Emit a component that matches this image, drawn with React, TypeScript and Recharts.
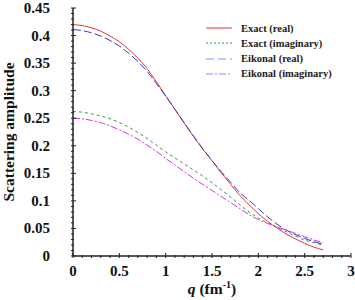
import { LineChart, Line, XAxis, YAxis, Legend } from 'recharts';

const qValues = [0, 0.1, 0.2, 0.3, 0.4, 0.5, 0.6, 0.7, 0.8, 0.9, 1.0, 1.1, 1.2, 1.3, 1.4, 1.5, 1.6, 1.7, 1.8, 1.9, 2.0, 2.1, 2.2, 2.3, 2.4, 2.5, 2.6, 2.7];

const exactReal = [0.420, 0.418, 0.414, 0.408, 0.399, 0.389, 0.375, 0.359, 0.340, 0.316, 0.291, 0.266, 0.241, 0.217, 0.194, 0.173, 0.151, 0.130, 0.110, 0.093, 0.077, 0.063, 0.051, 0.040, 0.031, 0.023, 0.016, 0.011];
const exactImag = [0.262, 0.261, 0.258, 0.254, 0.249, 0.242, 0.234, 0.224, 0.213, 0.201, 0.189, 0.178, 0.167, 0.156, 0.145, 0.133, 0.120, 0.107, 0.093, 0.080, 0.069, 0.060, 0.052, 0.044, 0.036, 0.029, 0.024, 0.020];
const eikonalReal = [0.411, 0.409, 0.405, 0.399, 0.391, 0.381, 0.368, 0.353, 0.335, 0.313, 0.290, 0.266, 0.242, 0.218, 0.195, 0.173, 0.153, 0.134, 0.115, 0.101, 0.086, 0.071, 0.058, 0.047, 0.039, 0.032, 0.026, 0.021];
const eikonalImag = [0.250, 0.249, 0.246, 0.242, 0.236, 0.229, 0.221, 0.212, 0.201, 0.190, 0.177, 0.165, 0.153, 0.141, 0.130, 0.119, 0.108, 0.097, 0.086, 0.075, 0.066, 0.059, 0.053, 0.047, 0.041, 0.035, 0.029, 0.024];

const xTickLabels = ['0', '0.5', '1', '1.5', '2', '2.5', '3'];
const yTickLabels = ['0', '0.05', '0.1', '0.15', '0.2', '0.25', '0.3', '0.35', '0.4', '0.45'];

const data = qValues.map((q, i) => ({
  q,
  er: exactReal[i],
  ei: exactImag[i],
  kr: eikonalReal[i],
  ki: eikonalImag[i],
}));

// minor ticks: every 0.1 on x, every 0.01 on y
const xTicks: number[] = [];
for (let i = 0; i <= 30; i++) xTicks.push(i / 10);
const yTicks: number[] = [];
for (let i = 0; i <= 45; i++) yTicks.push(i / 100);

const legendItems = [
  { name: 'Exact (real)', color: '#ee3333', dash: '' },
  { name: 'Exact (imaginary)', color: '#22aa22', dash: '2 2' },
  { name: 'Eikonal (real)', color: '#7799ff', dash: '8 4' },
  { name: 'Eikonal (imaginary)', color: '#aa77ee', dash: '7 2 2 2' },
];

const FONT = 'Liberation Serif';

const textStyle = { fontFamily: FONT, fontWeight: 700 };

function XTick(props: any) {
  const { x, y, payload } = props;
  const idx = Math.round(payload.value * 10);
  const major = idx % 5 === 0;
  return (
    <g>
      <line x1={x} x2={x} y1={y} y2={y - (major ? 5 : 3)} stroke="#222" strokeWidth={1} />
      {major && (
        <text x={x} y={y + 18} textAnchor="middle" style={{ ...textStyle, fontSize: 15 }} fill="#111">
          {xTickLabels[idx / 5]}
        </text>
      )}
    </g>
  );
}

function YTick(props: any) {
  const { x, y, payload } = props;
  const idx = Math.round(payload.value * 100);
  const major = idx % 5 === 0;
  return (
    <g>
      <line x1={x} x2={x + (major ? 5 : 3)} y1={y} y2={y} stroke="#222" strokeWidth={1} />
      {major && (
        <text x={x - 21} y={y + 5} textAnchor="end" style={{ ...textStyle, fontSize: 15 }} fill="#111">
          {yTickLabels[idx / 5]}
        </text>
      )}
    </g>
  );
}

function XLabel(props: any) {
  const { viewBox } = props;
  const cx = viewBox.x + viewBox.width / 2;
  return (
    <text x={cx} y={viewBox.y + 38} textAnchor="middle" style={{ ...textStyle, fontSize: 15.5 }} fill="#111">
      <tspan fontStyle="italic">q</tspan>
      <tspan> (fm</tspan>
      <tspan dy={-6} style={{ fontSize: 10 }}>-1</tspan>
      <tspan dy={6}>)</tspan>
    </text>
  );
}

function YLabel(props: any) {
  const { viewBox } = props;
  const cy = viewBox.y + viewBox.height / 2;
  return (
    <text x={13.5} y={cy} transform={`rotate(-90 13.5 ${cy})`} textAnchor="middle" style={{ ...textStyle, fontSize: 15.5 }} fill="#111">
      Scattering amplitude
    </text>
  );
}

function LegendBox() {
  return (
    <div style={{ ...textStyle, fontSize: 10.5, color: '#222' }}>
      {legendItems.map((item) => (
        <div key={item.name} style={{ display: 'flex', alignItems: 'center', height: 15.2 }}>
          <svg width={26} height={4} style={{ marginRight: 9 }}>
            <line x1={0} x2={26} y1={2} y2={2} stroke={item.color} strokeWidth={1} strokeDasharray={item.dash} />
          </svg>
          <span>{item.name}</span>
        </div>
      ))}
    </div>
  );
}

export default function App() {
  return (
    <div style={{ position: 'absolute', left: 0, top: 0, width: 355, height: 300, background: '#fff' }}>
      <LineChart width={355} height={300} data={data} margin={{ top: 8, right: 4, left: 0, bottom: 0 }}>
        <XAxis
          dataKey="q"
          type="number"
          domain={[0, 3]}
          ticks={xTicks}
          interval={0}
          tickSize={0}
          tickLine={false}
          tick={<XTick />}
          height={44}
          axisLine={{ stroke: '#222', strokeWidth: 1.5 }}
          label={<XLabel />}
        />
        <XAxis xAxisId="top" orientation="top" type="number" domain={[0, 3]} height={0} tick={false} tickLine={false} axisLine={{ stroke: '#222', strokeWidth: 1.5 }} />
        <YAxis
          type="number"
          domain={[0, 0.45]}
          ticks={yTicks}
          interval={0}
          tickSize={0}
          tickLine={false}
          tick={<YTick />}
          width={73}
          axisLine={{ stroke: '#222', strokeWidth: 1.5 }}
          label={<YLabel />}
        />
        <YAxis yAxisId="right" orientation="right" type="number" domain={[0, 0.45]} width={0} tick={false} tickLine={false} axisLine={{ stroke: '#222', strokeWidth: 1.5 }} />
        <Legend
          layout="vertical"
          align="center"
          verticalAlign="middle"
          wrapperStyle={{ top: 20.7, left: 206, width: 145 }}
          content={<LegendBox />}
        />
        <Line type="monotone" dataKey="er" stroke="#ee3333" strokeWidth={1} dot={false} isAnimationActive={false} />
        <Line type="monotone" dataKey="ei" stroke="#3a9a3a" strokeWidth={1} strokeDasharray="3 3" dot={false} isAnimationActive={false} />
        <Line type="monotone" dataKey="kr" stroke="#2840d0" strokeWidth={1} strokeDasharray="8 3" dot={false} isAnimationActive={false} />
        <Line type="monotone" dataKey="ki" stroke="#e030e0" strokeWidth={1} strokeDasharray="7 2 2 2" dot={false} isAnimationActive={false} />
      </LineChart>
    </div>
  );
}
